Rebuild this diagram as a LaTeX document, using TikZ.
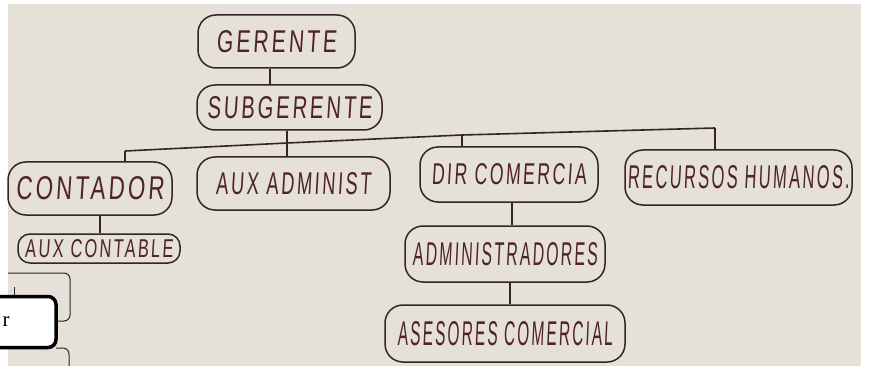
\documentclass[tikz,border=0pt]{standalone}
\usepackage{fontspec}
\usepackage{graphicx}
\setmainfont[FakeSlant=0.1, LetterSpace=14]{Liberation Sans}
\newfontfamily\uiserif{Liberation Serif}
\definecolor{paper}{RGB}{229,224,216}
\definecolor{ink}{RGB}{52,36,38}
\definecolor{pen}{RGB}{80,34,42}
% hand-lettered caption stretched to a given width and cap height
\newcommand{\hand}[3]{\resizebox{#1pt}{#2pt}{#3}}

\begin{document}
\begin{tikzpicture}[x=1pt,y=-1pt,
  orgbox/.style={draw=ink, line width=1.5pt, rounded corners=18pt, inner sep=0pt, text=pen},
  link/.style={draw=ink, line width=1.6pt},
  thinline/.style={draw=ink, line width=1pt, rounded corners=6pt}]
\useasboundingbox (0,0) rectangle (869,366);
\clip (0,0) rectangle (869,366);
\fill[white] (0,0) rectangle (869,366);
\fill[paper] (8,4) rectangle (861,366);

% org chart boxes
\node[orgbox, minimum width=157pt, minimum height=53pt] (ger)  at (276.5,41.5) {\hand{120}{22}{GERENTE}};
\node[orgbox, minimum width=185pt, minimum height=45pt] (sub)  at (289.5,107.5) {\hand{165}{22}{SUBGERENTE}};
\node[orgbox, minimum width=164pt, minimum height=53pt] (cont) at (90,188.5) {\hand{148}{23}{CONTADOR}};
\node[orgbox, minimum width=162pt, minimum height=29pt, rounded corners=12pt] (auxc) at (99,248.5) {\hand{148}{18}{AUX CONTABLE}};
\node[orgbox, minimum width=193pt, minimum height=53pt] (auxa) at (293.5,183.5) {\hand{155}{22}{AUX ADMINIST}};
\node[orgbox, minimum width=178pt, minimum height=55pt] (dir)  at (509,174.5) {\hand{155}{21}{DIR COMERCIA}};
\node[orgbox, minimum width=227pt, minimum height=55pt] (rec)  at (738.5,177.5) {\hand{222}{23}{RECURSOS HUMANOS.}};
\node[orgbox, minimum width=200pt, minimum height=56pt] (adm)  at (505,254) {\hand{185}{23}{ADMINISTRADORES}};
\node[orgbox, minimum width=240pt, minimum height=57pt] (ase)  at (505,333.5) {\hand{215}{24}{ASESORES COMERCIAL}};

% branch points of the connector bar
\coordinate (gx) at (270,0);
\coordinate (cx) at (100,0);
\coordinate (dx) at (512,0);
\coordinate (ax) at (510,0);
\coordinate (j1) at (125,151);
\coordinate (j2) at (287,143);
\coordinate (j3) at (462,135);
\coordinate (j4) at (715,128);

\draw[link] (ger.south -| gx) -- (sub.north -| gx);
\draw[link] (sub.south -| j2) -- (j2) -- (auxa.north -| j2);
\draw[link] (j1) -- (j2) -- (j3) -- (j4);
\draw[link] (j1) -- (cont.north -| j1);
\draw[link] (j3) -- (dir.north -| j3);
\draw[link] (j4) -- (rec.north -| j4);
\draw[link] (cont.south -| cx) -- (auxc.north -| cx);
\draw[link] (dir.south -| dx) -- (adm.north -| dx);
\draw[link] (adm.south -| ax) -- (ase.north -| ax);

% partly hidden boxes at the lower left
\draw[thinline] (8,273) -- (70,273) -- (70,321) -- (58,321);
\draw[ink, line width=1pt] (14,287) -- (14,295);
\draw[thinline] (56,348) -- (69,348) -- (69,370);

% white popup box
\node[draw=black, line width=3.5pt, fill=white, rounded corners=8pt,
      minimum width=76pt, minimum height=51pt, inner sep=0pt] (popup) at (18,322) {};
\node[font=\uiserif\fontsize{21}{21}\selectfont, text=black, inner sep=0pt] (plabel) at (6,322) {r};
\end{tikzpicture}
\end{document}
